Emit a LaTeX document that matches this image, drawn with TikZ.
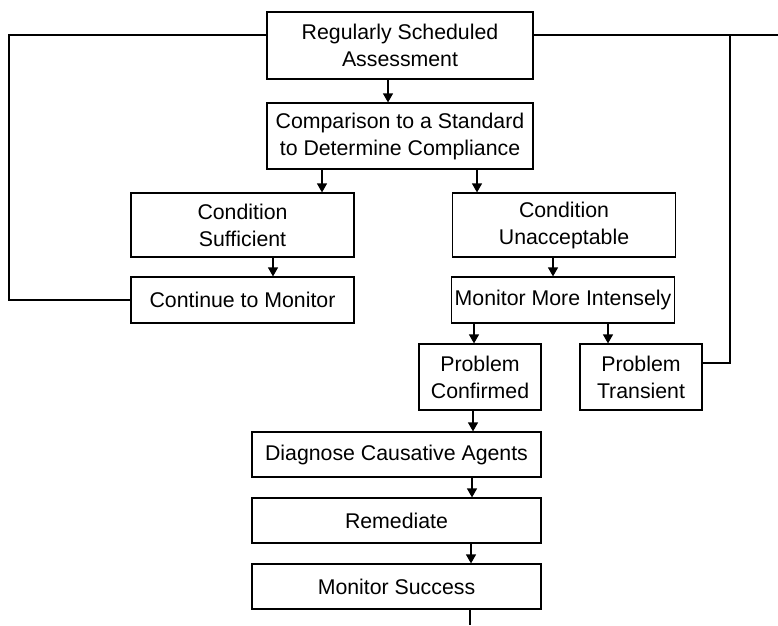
\documentclass[tikz,border=0pt]{standalone}
\usepackage{fontspec}
\setmainfont{Liberation Sans}
\usetikzlibrary{arrows.meta}
\tikzset{
    mybox/.style={draw=black,line width=1.2pt,inner sep=0pt,align=center,font=\fontsize{21.3}{27}\selectfont},
    mytopbox/.style={mybox,line width=2.4pt},
    myarrow/.style={line width=1.2pt,-{Triangle[length=9pt,width=10pt]}},
    myline/.style={line width=1.2pt}
}
\begin{document}
\begin{tikzpicture}[x=1pt,y=-1pt]
  \useasboundingbox (0,0) rectangle (778,625);

  %---------------- top ----------------
            \node[mytopbox,minimum width=266pt,minimum height=67pt] (assess) at (400,45.5) {Regularly Scheduled\\Assessment};
            \node[mybox,minimum width=266pt,minimum height=66pt] (compare) at (400,136) {Comparison to a Standard\\to Determine Compliance};

  %---------------- left branch ----------------
            \node[mybox,minimum width=223pt,minimum height=64pt] (suff) at (242.5,225) {Condition\\Sufficient};
            \node[mybox,minimum width=223pt,minimum height=46pt] (contmon) at (242.5,300) {Continue to Monitor};

  %---------------- right branch ----------------
            \node[mybox,minimum width=223pt,minimum height=64pt] (unacc) at (564,225) {Condition\\Unacceptable};
            \node[mybox,minimum width=223pt,minimum height=46pt] (monmore) at (563,300) {Monitor More Intensely};
            \node[mybox,minimum width=122pt,minimum height=66pt] (confirm) at (480,377) {Problem\\Confirmed};
            \node[mybox,minimum width=122pt,minimum height=66pt] (transient) at (641,377) {Problem\\Transient};

  %---------------- bottom ----------------
            \node[mybox,minimum width=289pt,minimum height=45pt] (diag) at (396.5,454.5) {Diagnose Causative Agents};
            \node[mybox,minimum width=289pt,minimum height=45pt] (remed) at (396.5,520.5) {Remediate};
            \node[mybox,minimum width=289pt,minimum height=45pt] (success) at (396.5,586.5) {Monitor Success};

  % loose ends and bends
            \coordinate (lbend) at (9,0);
            \coordinate (rbend) at (730,0);
            \coordinate (rend) at (778,35);
            \coordinate (bend) at (470,625);

  % arrows
            \draw[myarrow] ([xshift=-12pt]assess.south) -- ([xshift=-12pt]assess.south |- compare.north);
            \draw[myarrow] ([xshift=-78pt]compare.south) -- ([xshift=-78pt]compare.south |- suff.north);
            \draw[myarrow] ([xshift=77pt]compare.south) -- ([xshift=77pt]compare.south |- unacc.north);
            \draw[myarrow] ([xshift=30.5pt]suff.south) -- ([xshift=30.5pt]suff.south |- contmon.north);
            \draw[myarrow] ([xshift=-11pt]unacc.south) -- ([xshift=-11pt]unacc.south |- monmore.north);
            \draw[myarrow] ([xshift=-89pt]monmore.south) -- ([xshift=-89pt]monmore.south |- confirm.north);
            \draw[myarrow] ([xshift=45pt]monmore.south) -- ([xshift=45pt]monmore.south |- transient.north);
            \draw[myarrow] ([xshift=-7pt]confirm.south) -- ([xshift=-7pt]confirm.south |- diag.north);
            \draw[myarrow] ([xshift=75.5pt]diag.south) -- ([xshift=75.5pt]diag.south |- remed.north);
            \draw[myarrow] ([xshift=74.5pt]remed.south) -- ([xshift=74.5pt]remed.south |- success.north);
            \draw[myline] ([xshift=73.5pt]success.south) -- (bend);

  % loops back to the top
            \draw[myline] ([yshift=10.5pt]assess.west) -| (lbend |- contmon.west) -- (contmon.west);
            \draw[myline] ([yshift=10.5pt]assess.east) -- (rend);
            \draw[myline] ([yshift=14pt]transient.east) -| (rbend |- rend);

        \end{tikzpicture}
\end{document}
